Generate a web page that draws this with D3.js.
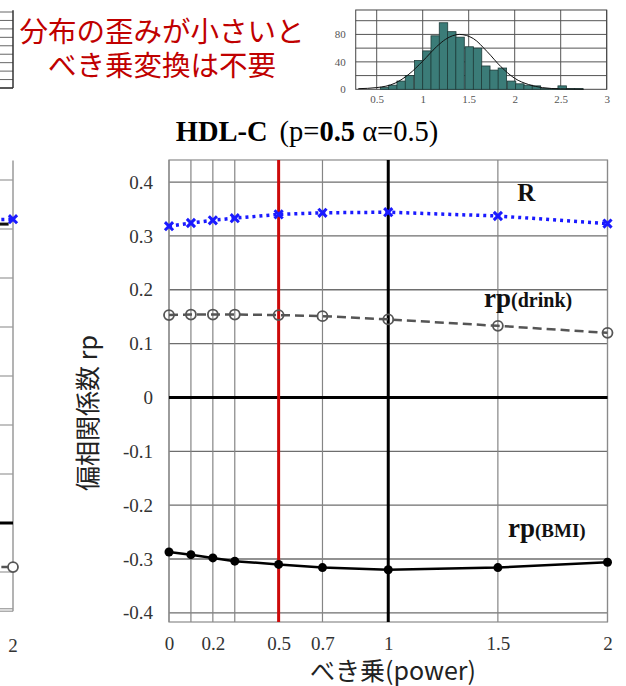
<!DOCTYPE html>
<html><head><meta charset="utf-8">
<script src="https://cdn.jsdelivr.net/npm/d3@7"></script>
<style>
html,body{margin:0;padding:0;background:#fff;}
svg{display:block;}
</style></head><body>
<svg id="c" width="626" height="686"></svg>
<script>
// ---- main panel: partial correlation vs. power transform (HDL-C) ----
const powers = [0, 0.1, 0.2, 0.3, 0.5, 0.7, 1, 1.5, 2];
const rValues = [0.318, 0.324, 0.329, 0.333, 0.340, 0.343, 0.344, 0.337, 0.323];
const drinkValues = [0.153, 0.154, 0.154, 0.154, 0.153, 0.151, 0.145, 0.133, 0.120];
const bmiValues = [-0.287, -0.292, -0.298, -0.304, -0.310, -0.316, -0.320, -0.316, -0.306];
const xGridValues = [0, 0.1, 0.2, 0.3, 0.5, 0.7, 1, 1.5, 2];
const xTickLabels = [0, 0.2, 0.5, 0.7, 1, 1.5, 2];
const yTicks = [-0.4, -0.3, -0.2, -0.1, 0, 0.1, 0.2, 0.3, 0.4];
const chosenPower = 0.5;
const identityPower = 1;

// ---- HDL-C distribution histogram ----
const binStarts = [0.54,0.63,0.72,0.81,0.91,1.00,1.09,1.18,1.27,1.36,1.46,1.55,1.64,1.73,1.82,1.92,2.01,2.10,2.19,2.28,2.38,2.47,2.56,2.65];
const binWidth = 0.092;
const binCounts = [3,6,12,20,42,56,78,97,84,76,62,60,34,28,31,12,8,6,5,1,1,5,1,1];
const curveX = [0.30,0.50,0.70,0.85,1.00,1.15,1.25,1.40,1.55,1.70,1.85,2.00,2.15,2.30,2.50,2.75];
const curveY = [0.9,2.5,9,22,41,62,73,80,74,55,33,16,7,2.5,0.6,0.1];
const histXTicks = [0.5, 1, 1.5, 2, 2.5, 3];
const histYGrid = [20, 40, 60, 80, 100];
const histYLabels = [0, 40, 80];

// ---- neighbouring panels (right edges only) ----
const leftPowers = [1.5, 2];
const leftR = [0.615, 0.62];
const leftDrink = [-0.088, -0.09];
const leftRef = 0.61;
const leftGrid = [-0.1, 0.1, 0.2, 0.3, 0.4, 0.5, 0.6, 0.7];
const leftHistGrid = [10, 20, 30, 40, 50, 60, 70, 80, 90];

const svg = d3.select("#c");
const serif = "'Liberation Serif','Times New Roman',serif";
const cjk = "'Noto Sans CJK JP','Noto Sans',sans-serif";

// ================= main panel =================
const x = d3.scaleLinear().domain([0, 2]).range([169, 607.5]);
const y = d3.scaleLinear().domain([-0.417, 0.441]).range([622, 160]);
const main = svg.append("g");

// horizontal grid
main.append("g").selectAll("line").data(yTicks.filter(d => d !== 0)).join("line")
  .attr("x1", x(0)).attr("x2", x(2))
  .attr("y1", d => y(d)).attr("y2", d => y(d))
  .attr("stroke", "#6e6e6e").attr("stroke-width", 1.3);
// vertical grid
main.append("g").selectAll("line").data(xGridValues).join("line")
  .attr("x1", d => x(d)).attr("x2", d => x(d))
  .attr("y1", y(0.441)).attr("y2", y(-0.417))
  .attr("stroke", "#858585").attr("stroke-width", 1.2);
// frame
main.append("rect")
  .attr("x", x(0)).attr("y", y(0.441))
  .attr("width", x(2) - x(0)).attr("height", y(-0.417) - y(0.441))
  .attr("fill", "none").attr("stroke", "#8a8a8a").attr("stroke-width", 1.2);
// zero line and reference powers
main.append("line").attr("x1", x(0)).attr("x2", x(2)).attr("y1", y(0)).attr("y2", y(0))
  .attr("stroke", "#000").attr("stroke-width", 3);
main.append("line").attr("x1", x(identityPower)).attr("x2", x(identityPower))
  .attr("y1", y(0.441)).attr("y2", y(-0.417))
  .attr("stroke", "#000").attr("stroke-width", 3);
main.append("line").attr("x1", x(chosenPower)).attr("x2", x(chosenPower))
  .attr("y1", y(0.441)).attr("y2", y(-0.417))
  .attr("stroke", "#cc0a0a").attr("stroke-width", 3);

// axes
const yAxis = main.append("g").attr("transform", `translate(${x(0)},0)`)
  .call(d3.axisLeft(y).tickValues(yTicks).tickSize(0).tickPadding(16)
    .tickFormat(d => d === 0 ? "0" : d.toFixed(1)));
yAxis.select(".domain").remove();
yAxis.selectAll("text").attr("font-family", serif).attr("font-size", 19).attr("fill", "#333");

const xAxis = main.append("g").attr("transform", `translate(0,${y(-0.417)})`)
  .call(d3.axisBottom(x).tickValues(xTickLabels).tickSize(0).tickPadding(15)
    .tickFormat(d => String(d)));
xAxis.select(".domain").remove();
xAxis.selectAll("text").attr("font-family", serif).attr("font-size", 19).attr("fill", "#333");

// series
const line = d3.line().x((d, i) => x(powers[i])).y(d => y(d));
main.append("path").datum(drinkValues).attr("d", line)
  .attr("fill", "none").attr("stroke", "#555").attr("stroke-width", 2.5).attr("stroke-dasharray", "9,5");
main.append("g").selectAll("circle").data(drinkValues).join("circle")
  .attr("cx", (d, i) => x(powers[i])).attr("cy", d => y(d)).attr("r", 5)
  .attr("fill", "none").attr("stroke", "#555").attr("stroke-width", 1.8);

main.append("path").datum(bmiValues).attr("d", line)
  .attr("fill", "none").attr("stroke", "#000").attr("stroke-width", 2.5);
main.append("g").selectAll("circle").data(bmiValues).join("circle")
  .attr("cx", (d, i) => x(powers[i])).attr("cy", d => y(d)).attr("r", 4.5)
  .attr("fill", "#000");

main.append("path").datum(rValues).attr("d", line)
  .attr("fill", "none").attr("stroke", "#1a1aff").attr("stroke-width", 3.5).attr("stroke-dasharray", "3,4");
main.append("g").selectAll("path").data(rValues).join("path")
  .attr("transform", (d, i) => `translate(${x(powers[i])},${y(d)})`)
  .attr("d", d3.symbol(d3.symbolTimes, 45)())
  .attr("fill", "none").attr("stroke", "#1a1aff").attr("stroke-width", 3);

// series labels
main.append("text").attr("x", x(1.63)).attr("y", y(0.365)).attr("text-anchor", "middle")
  .attr("font-family", serif).attr("font-weight", "bold").attr("font-size", 25).attr("fill", "#111").text("R");
const tDrink = main.append("text").attr("x", x(1.437)).attr("y", y(0.168))
  .attr("font-family", serif).attr("font-weight", "bold").attr("fill", "#111");
tDrink.append("tspan").attr("font-size", 27).text("rp");
tDrink.append("tspan").attr("font-size", 20).text("(drink)");
const tBmi = main.append("text").attr("x", x(1.546)).attr("y", y(-0.259))
  .attr("font-family", serif).attr("font-weight", "bold").attr("fill", "#111");
tBmi.append("tspan").attr("font-size", 27).text("rp");
tBmi.append("tspan").attr("font-size", 19).text("(BMI)");

// title and axis titles
const title = svg.append("text").attr("x", 307).attr("y", 141).attr("text-anchor", "middle")
  .attr("font-family", serif).attr("font-size", 28.5).attr("fill", "#000");
title.append("tspan").attr("font-weight", "bold").text("HDL-C");
title.append("tspan").attr("dx", 12).text("(p=");
title.append("tspan").attr("font-weight", "bold").text("0.5");
title.append("tspan").text(" α=0.5)");

svg.append("text").attr("transform", "translate(97,413) rotate(-90)").attr("text-anchor", "middle")
  .attr("font-family", cjk).attr("font-size", 25).attr("fill", "#222").text("偏相関係数 rp");
svg.append("text").attr("x", 393).attr("y", 680).attr("text-anchor", "middle")
  .attr("font-family", cjk).attr("font-size", 25).attr("fill", "#222").text("べき乗(power)");

// note
const note = svg.append("text").attr("text-anchor", "middle").attr("font-family", cjk)
  .attr("font-size", 28.5).attr("fill", "#c00000");
note.append("tspan").attr("x", 162).attr("y", 42).text("分布の歪みが小さいと");
note.append("tspan").attr("x", 162).attr("y", 76).text("べき乗変換は不要");

// ================= histogram =================
const xH = d3.scaleLinear().domain([0, 3]).range([330.7, 606.7]);
const yH = d3.scaleLinear().domain([0, 100]).range([89.3, 20.7]);
const hist = svg.append("g");
hist.append("g").selectAll("line").data(histYGrid).join("line")
  .attr("x1", xH(0.272)).attr("x2", xH(3)).attr("y1", d => yH(d)).attr("y2", d => yH(d))
  .attr("stroke", "#555").attr("stroke-width", 1);
hist.append("g").selectAll("line").data(histXTicks).join("line")
  .attr("x1", d => xH(d)).attr("x2", d => xH(d)).attr("y1", yH(115.6)).attr("y2", yH(0))
  .attr("stroke", "#555").attr("stroke-width", 1);
hist.append("rect").attr("x", xH(0.272)).attr("y", yH(115.6))
  .attr("width", xH(3) - xH(0.272)).attr("height", yH(0) - yH(115.6))
  .attr("fill", "none").attr("stroke", "#444").attr("stroke-width", 1);
hist.append("g").selectAll("rect").data(binCounts).join("rect")
  .attr("x", (d, i) => xH(binStarts[i])).attr("width", xH(binWidth) - xH(0))
  .attr("y", d => yH(d)).attr("height", d => yH(0) - yH(d))
  .attr("fill", "#3b7c78").attr("stroke", "#1e3b39").attr("stroke-width", 0.8);
hist.append("path").datum(curveY)
  .attr("d", d3.line().x((d, i) => xH(curveX[i])).y(d => yH(d)).curve(d3.curveMonotoneX))
  .attr("fill", "none").attr("stroke", "#111").attr("stroke-width", 1);
const hxAxis = hist.append("g").attr("transform", `translate(0,${yH(0)})`)
  .call(d3.axisBottom(xH).tickValues(histXTicks).tickSize(0).tickPadding(6).tickFormat(d => String(d)));
hxAxis.select(".domain").remove();
hxAxis.selectAll("text").attr("font-family", serif).attr("font-size", 11).attr("fill", "#555");
const hyAxis = hist.append("g").attr("transform", `translate(${xH(0.272)},0)`)
  .call(d3.axisLeft(yH).tickValues(histYLabels).tickSize(0).tickPadding(10).tickFormat(d => String(d)));
hyAxis.select(".domain").remove();
hyAxis.selectAll("text").attr("font-family", serif).attr("font-size", 11).attr("fill", "#555");

// ================= neighbouring panels (clipped at the left edge) =================
const xL = d3.scaleLinear().domain([0, 2]).range([13 - 438.5, 13]);
const yL = d3.scaleLinear().domain([0, 0.1]).range([523, 474]);
const left = svg.append("g");
left.append("g").selectAll("line").data(leftGrid).join("line")
  .attr("x1", 0).attr("x2", xL(2)).attr("y1", d => yL(d)).attr("y2", d => yL(d))
  .attr("stroke", "#9a9a9a").attr("stroke-width", 1.2);
left.append("line").attr("x1", xL(2)).attr("x2", xL(2)).attr("y1", yL(0.74)).attr("y2", yL(-0.18))
  .attr("stroke", "#9a9a9a").attr("stroke-width", 1.5);
left.append("line").attr("x1", 0).attr("x2", xL(2)).attr("y1", yL(-0.18)).attr("y2", yL(-0.18))
  .attr("stroke", "#999").attr("stroke-width", 1.2);
left.append("line").attr("x1", 0).attr("x2", xL(2)).attr("y1", yL(-0.175)).attr("y2", yL(-0.175))
  .attr("stroke", "#999").attr("stroke-width", 1.2);
left.append("line").attr("x1", 0).attr("x2", xL(2)).attr("y1", yL(0)).attr("y2", yL(0))
  .attr("stroke", "#000").attr("stroke-width", 3);
left.append("line").attr("x1", 0).attr("x2", xL(1.98)).attr("y1", yL(leftRef)).attr("y2", yL(leftRef))
  .attr("stroke", "#111").attr("stroke-width", 3);
const lineL = d3.line().x((d, i) => xL(leftPowers[i])).y(d => yL(d));
left.append("path").datum(leftDrink).attr("d", lineL)
  .attr("fill", "none").attr("stroke", "#555").attr("stroke-width", 2.5).attr("stroke-dasharray", "9,5");
left.append("circle").attr("cx", xL(2)).attr("cy", yL(leftDrink[1])).attr("r", 5)
  .attr("fill", "#fff").attr("stroke", "#555").attr("stroke-width", 1.8);
left.append("path").datum(leftR).attr("d", lineL)
  .attr("fill", "none").attr("stroke", "#1a1aff").attr("stroke-width", 3.5).attr("stroke-dasharray", "3,4");
left.append("path").attr("transform", `translate(${xL(2)},${yL(leftR[1])})`)
  .attr("d", d3.symbol(d3.symbolTimes, 45)())
  .attr("fill", "none").attr("stroke", "#1a1aff").attr("stroke-width", 3);
left.append("text").attr("x", xL(2)).attr("y", 651.5).attr("text-anchor", "middle")
  .attr("font-family", serif).attr("font-size", 19).attr("fill", "#333").text("2");

const yHL = d3.scaleLinear().domain([0, 90]).range([88, 12]);
left.append("g").selectAll("line").data(leftHistGrid).join("line")
  .attr("x1", 0).attr("x2", 13).attr("y1", d => yHL(d)).attr("y2", d => yHL(d))
  .attr("stroke", "#666").attr("stroke-width", 1);
left.append("line").attr("x1", 0).attr("x2", 13).attr("y1", yHL(0)).attr("y2", yHL(0))
  .attr("stroke", "#222").attr("stroke-width", 1.5);
left.append("line").attr("x1", 13).attr("x2", 13).attr("y1", yHL(92)).attr("y2", yHL(0))
  .attr("stroke", "#333").attr("stroke-width", 1.5);
</script>
</body></html>
